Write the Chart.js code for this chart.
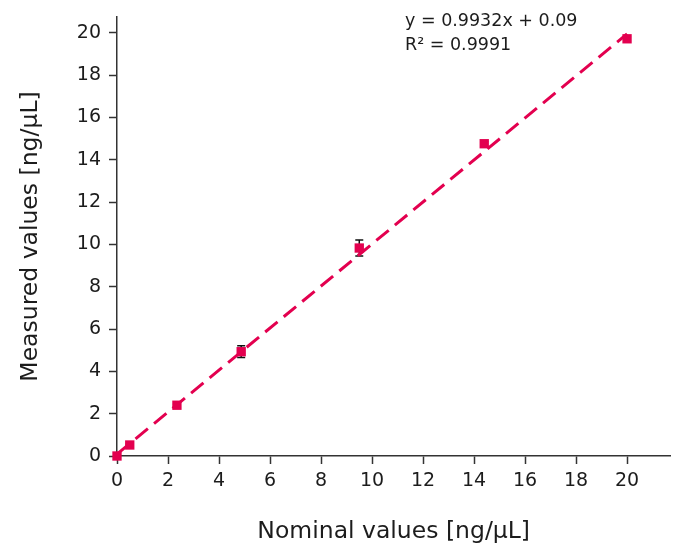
<!DOCTYPE html>
<html>
<head>
<meta charset="utf-8">
<script src="https://cdn.jsdelivr.net/npm/chart.js@4"></script>
<style>
  html, body { margin: 0; padding: 0; background: #fff; }
  #wrap { width: 677px; height: 547px; }
</style>
</head>
<body>
<div id="wrap"><canvas id="c"></canvas></div>
<script>
// data
const nominal = [0, 0.5, 2.35, 4.87, 9.5, 14.4, 20];
const measured = [0, 0.52, 2.4, 4.93, 9.83, 14.76, 19.72];
const errs = [0, 0.05, 0.05, 0.28, 0.38, 0.1, 0.1];
const trendX = [0, 20];
const trendY = [0.09, 19.95];
const eqText = ["y = 0.9932x + 0.09", "R\u00B2 = 0.9991"];
const xTicks = [0, 2, 4, 6, 8, 10, 12, 14, 16, 18, 20];

const red = "#E3004F";
const ink = "#1c1c1c";
const fontFam = "'DejaVu Sans', sans-serif";

const errorBars = {
   id: "errorBars",
   beforeDatasetsDraw(chart) {
      const { ctx, scales: { x, y } } = chart;
      ctx.save();
      ctx.strokeStyle = "#111";
      ctx.lineWidth = 1.5;
      nominal.forEach((v, i) => {
         if (!errs[i]) return;
         const px = x.getPixelForValue(v);
         const top = y.getPixelForValue(measured[i] + errs[i]);
         const bot = y.getPixelForValue(measured[i] - errs[i]);
         ctx.beginPath();
         ctx.moveTo(px, top); ctx.lineTo(px, bot);
         ctx.moveTo(px - 4, top); ctx.lineTo(px + 4, top);
         ctx.moveTo(px - 4, bot); ctx.lineTo(px + 4, bot);
         ctx.stroke();
      });
      ctx.restore();
   }
};

const equation = {
   id: "equation",
   afterDraw(chart) {
      const ctx = chart.ctx;
      ctx.save();
      ctx.fillStyle = ink;
      ctx.font = "17.5px " + fontFam;
      ctx.textBaseline = "middle";
      ctx.fillText(eqText[0], 405, 21);
      ctx.fillText(eqText[1], 405, 45);
      ctx.restore();
   }
};

new Chart(document.getElementById("c"), {
   type: "scatter",
   data: {
      datasets: [
         {
            type: "line",
            data: trendX.map((v, i) => ({ x: v, y: trendY[i] })),
            borderColor: red,
            borderWidth: 3,
            borderDash: [16, 8],
            pointRadius: 0,
            fill: false,
            clip: false,
            order: 2
         },
         {
            data: nominal.map((v, i) => ({ x: v, y: measured[i] })),
            pointStyle: "rect",
            pointRadius: 6.6,
            backgroundColor: red,
            borderColor: red,
            borderWidth: 0,
            clip: false,
            order: 1
         }
      ]
   },
   options: {
      responsive: true,
      maintainAspectRatio: false,
      animation: false,
      layout: { padding: { top: 17, right: 0, left: 0, bottom: 0 } },
      plugins: { legend: { display: false }, tooltip: { enabled: false } },
      scales: {
         x: {
            type: "linear",
            min: 0,
            max: 21.7,
            afterBuildTicks: s => { s.ticks = xTicks.map(v => ({ value: v })) },
            afterFit: s => { s.height = 91 },
            border: { color: "#333", width: 1.5 },
            grid: { drawOnChartArea: false, tickLength: 8, tickColor: "#333", tickWidth: 1.5 },
            ticks: { color: ink, font: { size: 19, family: fontFam }, padding: 6 },
            title: {
               display: true,
               text: "Nominal values [ng/\u03BCL]",
               color: ink,
               font: { size: 23.5, family: fontFam },
               padding: { top: 0, bottom: 1 }
            }
         },
         y: {
            type: "linear",
            min: 0,
            max: 20.75,
            afterBuildTicks: s => { s.ticks = xTicks.map(v => ({ value: v })) },
            afterFit: s => { s.width = 117; s.paddingTop = 0 },
            border: { color: "#333", width: 1.5 },
            grid: { drawOnChartArea: false, tickLength: 8, tickColor: "#333", tickWidth: 1.5 },
            ticks: { color: ink, font: { size: 19, family: fontFam }, padding: 8 },
            title: {
               display: true,
               text: "Measured values [ng/\u03BCL]",
               color: ink,
               font: { size: 23.5, family: fontFam },
               padding: { top: 17, bottom: 0 }
            }
         }
      }
   },
   plugins: [errorBars, equation]
});
</script>
</body>
</html>
